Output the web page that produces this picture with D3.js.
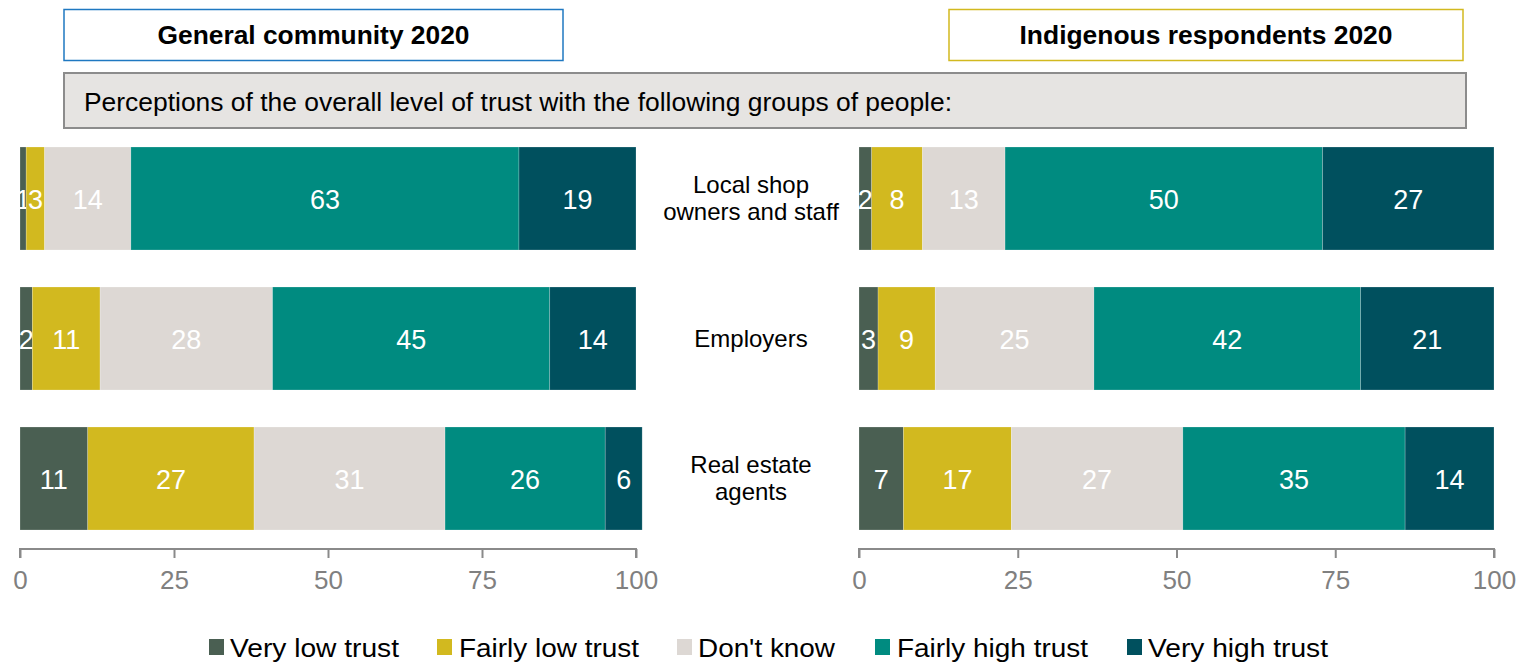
<!DOCTYPE html>
<html><head><meta charset="utf-8">
<script src="https://cdn.jsdelivr.net/npm/d3@7"></script>
<style>body{margin:0;background:#fff;}svg{display:block;font-family:"Liberation Sans",Arial,sans-serif;}</style>
</head><body><svg id="c" width="1528" height="663"></svg>
<script>
const categories = ["Local shop owners and staff", "Employers", "Real estate agents"];
const categoryLines = [["Local shop", "owners and staff"], ["Employers"], ["Real estate", "agents"]];
const seriesNames = ["Very low trust", "Fairly low trust", "Don't know", "Fairly high trust", "Very high trust"];
const seriesColors = ["#4a5f52", "#d2b91f", "#ddd8d4", "#008b80", "#00505e"];
const generalValues = [[1, 3, 14, 63, 19], [2, 11, 28, 45, 14], [11, 27, 31, 26, 6]];
const indigenousValues = [[2, 8, 13, 50, 27], [3, 9, 25, 42, 21], [7, 17, 27, 35, 14]];
const tickValues = [0, 25, 50, 75, 100];
const panelTitles = ["General community 2020", "Indigenous respondents 2020"];
const subtitle = "Perceptions of the overall level of trust with the following groups of people:";

const svg = d3.select("#c");

// header boxes
const headers = [
  {x: 64, w: 499, color: "#1f78c1", text: panelTitles[0], tl: 312},
  {x: 949, w: 514, color: "#d2b91f", text: panelTitles[1], tl: 373}
];
headers.forEach(h => {
  svg.append("rect").attr("x", h.x).attr("y", 9.5).attr("width", h.w).attr("height", 51)
    .attr("fill", "#fff").attr("stroke", h.color).attr("stroke-width", 1.5);
  svg.append("text").attr("x", h.x + h.w / 2).attr("y", 44).attr("text-anchor", "middle")
    .attr("font-weight", "bold").attr("font-size", 25)
    .attr("textLength", h.tl).attr("lengthAdjust", "spacingAndGlyphs")
    .attr("fill", "#000").text(h.text);
});
svg.append("rect").attr("x", 64).attr("y", 73).attr("width", 1402).attr("height", 55)
  .attr("fill", "#e6e4e2").attr("stroke", "#8c8c8c").attr("stroke-width", 2);
svg.append("text").attr("x", 84).attr("y", 111)
  .attr("font-size", 25).attr("textLength", 868).attr("lengthAdjust", "spacingAndGlyphs")
  .attr("fill", "#000").text(subtitle);

const y = d3.scaleBand().domain(categories).range([147, 530]).paddingInner(37 / 140).paddingOuter(0);

function panel(values, x0, x1) {
  const x = d3.scaleLinear().domain([0, 100]).range([x0, x1]);
  const g = svg.append("g");
  values.forEach((row, i) => {
    let cum = 0;
    row.forEach((v, j) => {
      const a = cum, b = cum + v; cum = b;
      g.append("rect").attr("x", x(a)).attr("y", y(categories[i]))
        .attr("width", x(b) - x(a)).attr("height", y.bandwidth())
        .attr("fill", seriesColors[j]).attr("stroke", "rgba(255,255,255,0.35)").attr("stroke-width", 0.6);
      g.append("text").attr("x", (x(a) + x(b)) / 2).attr("y", y(categories[i]) + y.bandwidth() / 2 + 10)
        .attr("text-anchor", "middle")
        .attr("font-size", 27).attr("fill", "#fff").text(v);
    });
  });
  const ax = svg.append("g").attr("transform", "translate(0,549)")
    .call(d3.axisBottom(x).tickValues(tickValues).tickSize(9).tickPadding(13));
  ax.select(".domain").attr("stroke", "#8a8a8a").attr("stroke-width", 2)
    .attr("d", `M${x0},9V0H${x1}V9`);
  ax.selectAll(".tick line").attr("stroke", "#8a8a8a").attr("stroke-width", 2);
  ax.selectAll(".tick text").attr("font-size", 26).attr("fill", "#808080")
    .attr("font-family", "Liberation Sans, Arial, sans-serif");
}
panel(generalValues, 20, 636);
panel(indigenousValues, 859, 1494);

// category labels
categoryLines.forEach((lines, i) => {
  const cy = y(categories[i]) + y.bandwidth() / 2;
  const t = svg.append("text").attr("text-anchor", "middle").attr("font-size", 24).attr("fill", "#000");
  lines.forEach((l, k) => {
    t.append("tspan").attr("x", 751).attr("y", cy + 8 + (k - (lines.length - 1) / 2) * 27).text(l);
  });
});

// legend
const legendSq = [209, 437, 677, 875, 1127];
const legendTx = [230, 459, 698, 897, 1148];
const legendW = [169, 180, 137, 191, 180];
seriesNames.forEach((n, i) => {
  svg.append("rect").attr("x", legendSq[i]).attr("y", 639).attr("width", 15).attr("height", 16)
    .attr("fill", seriesColors[i]);
  svg.append("text").attr("x", legendTx[i]).attr("y", 657)
    .attr("font-size", 26).attr("textLength", legendW[i]).attr("lengthAdjust", "spacingAndGlyphs")
    .attr("fill", "#000").text(n);
});
</script></body></html>
